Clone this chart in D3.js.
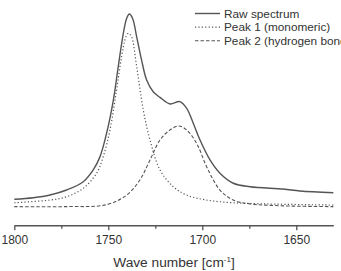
<!DOCTYPE html>
<html lang="en">
<head>
  <meta charset="UTF-8">
  <title>FTIR peak fit</title>
  <style>
    body { margin: 0; background: #fff; }
    text { font-family: "Liberation Sans", Arial, sans-serif; }
  </style>
</head>
<body>
  <script src="https://d3js.org/d3.v7.min.js"></script>
  <script>
    const width = 341;
    const height = 271;

    // raw spectrum (wave number, absorbance a.u.)
    const rawWave = [1800, 1789.9, 1781, 1772.2, 1763.3, 1758, 1754.4, 1750.9, 1747.3, 1744.7, 1742, 1740.2, 1738.8, 1737.1, 1734.9, 1732.3, 1729.6, 1726.1, 1722.5, 1717.2, 1711.9, 1708.3, 1704.8, 1701.2, 1695.9, 1690.6, 1683.5, 1674.6, 1656.9, 1648, 1630.3];
    const rawVal = [0.040, 0.048, 0.062, 0.088, 0.131, 0.192, 0.261, 0.382, 0.554, 0.727, 0.900, 0.978, 1.000, 0.978, 0.882, 0.762, 0.658, 0.597, 0.568, 0.534, 0.546, 0.511, 0.434, 0.347, 0.244, 0.175, 0.123, 0.105, 0.093, 0.083, 0.074];

    // peak 1 (monomeric)
    const peak1Wave = [1800, 1781, 1772.2, 1763.3, 1756.2, 1752.7, 1749.1, 1745.6, 1742.9, 1740.6, 1739.2, 1737.6, 1734.9, 1731.4, 1727.8, 1722.5, 1715.4, 1708.3, 1697.7, 1683.5, 1665.8, 1630.3];
    const peak1Val = [0.022, 0.036, 0.053, 0.097, 0.175, 0.261, 0.399, 0.606, 0.779, 0.882, 0.900, 0.882, 0.727, 0.503, 0.347, 0.192, 0.105, 0.062, 0.036, 0.022, 0.016, 0.010];

    // peak 2 (hydrogen bonded)
    const peak2Wave = [1800, 1772.2, 1750.9, 1740.2, 1733.2, 1727.8, 1722.5, 1717.2, 1712.4, 1708.3, 1703, 1697.7, 1690.6, 1683.5, 1674.6, 1656.9, 1630.3];
    const peak2Val = [0.002, 0.002, 0.012, 0.062, 0.140, 0.244, 0.347, 0.399, 0.420, 0.399, 0.330, 0.209, 0.088, 0.036, 0.016, 0.006, 0.002];

    const majorTicks = [1800, 1750, 1700, 1650];
    const minorTicks = [1775, 1725, 1675];
    const legendLabels = ['Raw spectrum', 'Peak 1 (monomeric)', 'Peak 2 (hydrogen bonded)'];

    const lineColor = '#555';
    const textColor = '#333';

    const svg = d3.select('body')
      .append('svg')
      .attr('width', width)
      .attr('height', height);

    const xScale = d3.scaleLinear()
      .domain([1800, 1630.3])
      .range([14.3, 333.3]);

    const yScale = d3.scaleLinear()
      .domain([0, 1])
      .range([207, 14]);

    const axisY = 225.3;

    // minor ticks
    svg.append('g')
      .attr('transform', `translate(0, ${axisY})`)
      .call(d3.axisBottom(xScale).tickValues(minorTicks).tickSize(3.5).tickSizeOuter(0).tickFormat(''))
      .call(g => g.select('.domain').remove())
      .call(g => g.selectAll('line').attr('stroke', lineColor).attr('stroke-width', 1.3));

    // major ticks + axis line
    svg.append('g')
      .attr('transform', `translate(0, ${axisY})`)
      .call(d3.axisBottom(xScale).tickValues(majorTicks).tickSize(5).tickSizeOuter(0).tickPadding(5).tickFormat(d3.format('d')))
      .call(g => g.select('.domain').attr('stroke', lineColor).attr('stroke-width', 1.4))
      .call(g => g.selectAll('line').attr('stroke', lineColor).attr('stroke-width', 1.3))
      .call(g => g.selectAll('text')
        .attr('fill', textColor)
        .style('font-size', '12px')
        .style('font-family', '"Liberation Sans", Arial, sans-serif'));

    // axis title
    const title = svg.append('text')
      .attr('x', 174)
      .attr('y', 267)
      .attr('text-anchor', 'middle')
      .attr('fill', textColor)
      .style('font-size', '13.7px');
    title.append('tspan').text('Wave number [cm');
    title.append('tspan').attr('dy', -5).style('font-size', '8px').text('-1');
    title.append('tspan').attr('dy', 5).text(']');

    const series = [
      { wave: rawWave, val: rawVal, dash: null, width: 1.4 },
      { wave: peak1Wave, val: peak1Val, dash: '1.2,2.2', width: 1.2 },
      { wave: peak2Wave, val: peak2Val, dash: '3.5,2', width: 1.1 },
    ];

    const line = d3.line()
      .x(d => xScale(d[0]))
      .y(d => yScale(d[1]))
      .curve(d3.curveCatmullRom.alpha(0.5));

    series.forEach(s => {
      svg.append('path')
        .datum(d3.zip(s.wave, s.val))
        .attr('fill', 'none')
        .attr('stroke', lineColor)
        .attr('stroke-width', s.width)
        .attr('stroke-dasharray', s.dash)
        .attr('d', line);
    });

    // legend (runs off the right edge, as in the original figure)
    const legend = svg.append('g')
      .attr('transform', 'translate(195, 13.5)');

    legendLabels.forEach((label, i) => {
      const row = legend.append('g').attr('transform', `translate(0, ${i * 13.6})`);
      row.append('line')
        .attr('x1', 0)
        .attr('x2', 25)
        .attr('stroke', lineColor)
        .attr('stroke-width', series[i].width)
        .attr('stroke-dasharray', series[i].dash);
      row.append('text')
        .attr('x', 29)
        .attr('dy', '0.35em')
        .attr('fill', textColor)
        .style('font-size', '11.8px')
        .text(label);
    });
  </script>
</body>
</html>
